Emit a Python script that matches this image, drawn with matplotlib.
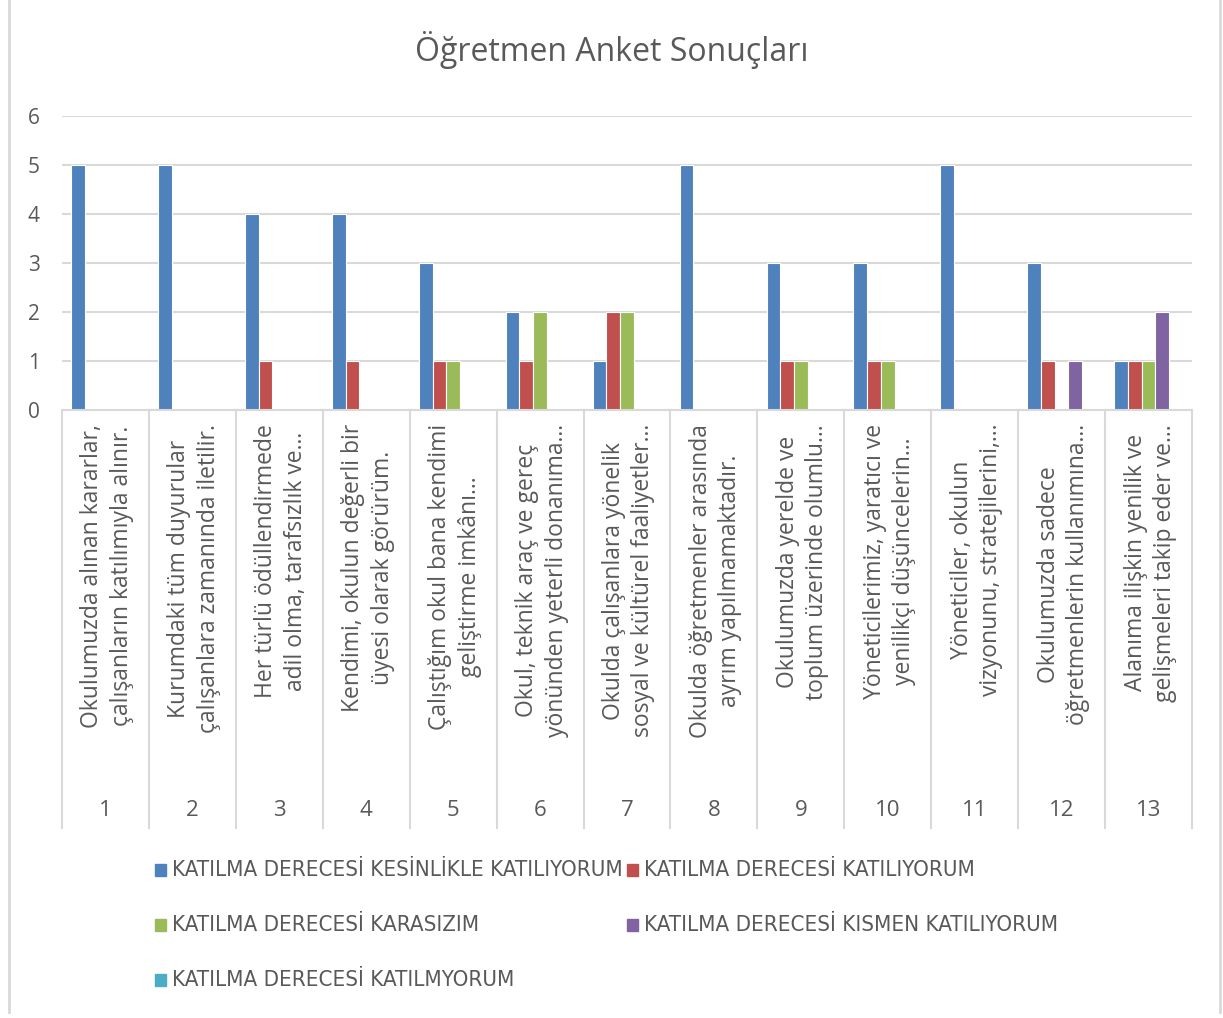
import numpy as np
import matplotlib.pyplot as plt
from matplotlib.patches import Rectangle
from matplotlib.lines import Line2D

# survey results, number of answers per statement
question_no = [str(i) for i in range(1, 14)]
statements = [
    "Okulumuzda alınan kararlar,\nçalışanların katılımıyla alınır.",
    "Kurumdaki tüm duyurular\nçalışanlara zamanında iletilir.",
    "Her türlü ödüllendirmede\nadil olma, tarafsızlık ve…",
    "Kendimi, okulun değerli bir\nüyesi olarak görürüm.",
    "Çalıştığım okul bana kendimi\ngeliştirme imkânı…",
    "Okul, teknik araç ve gereç\nyönünden yeterli donanıma…",
    "Okulda çalışanlara yönelik\nsosyal ve kültürel faaliyetler…",
    "Okulda öğretmenler arasında\nayrım yapılmamaktadır.",
    "Okulumuzda yerelde ve\ntoplum üzerinde olumlu…",
    "Yöneticilerimiz, yaratıcı ve\nyenilikçi düşüncelerin…",
    "Yöneticiler, okulun\nvizyonunu, stratejilerini,…",
    "Okulumuzda sadece\nöğretmenlerin kullanımına…",
    "Alanıma ilişkin yenilik ve\ngelişmeleri takip eder ve…",
]
series_names = [
    "KATILMA DERECESİ KESİNLİKLE KATILIYORUM",
    "KATILMA DERECESİ KATILIYORUM",
    "KATILMA DERECESİ KARASIZIM",
    "KATILMA DERECESİ KISMEN KATILIYORUM",
    "KATILMA DERECESİ KATILMYORUM",
]
kesinlikle = [5, 5, 4, 4, 3, 2, 1, 5, 3, 3, 5, 3, 1]
katiliyorum = [0, 0, 1, 1, 1, 1, 2, 0, 1, 1, 0, 1, 1]
kararsizim = [0, 0, 0, 0, 1, 2, 2, 0, 1, 1, 0, 0, 1]
kismen = [0, 0, 0, 0, 0, 0, 0, 0, 0, 0, 0, 1, 2]
katilmiyorum = [0, 0, 0, 0, 0, 0, 0, 0, 0, 0, 0, 0, 0]

series = [kesinlikle, katiliyorum, kararsizim, kismen, katilmiyorum]
colors = ['#4F81BD', '#C0504D', '#9BBB59', '#8064A2', '#4BACC6']
text_color = '#595959'
line_color = '#D9D9D9'

W, H = 1223, 1018
fig = plt.figure(figsize=(W / 100, H / 100), dpi=100)
plt.rcParams['font.family'] = ['Open Sans', 'DejaVu Sans']

# axes box in pixels: x 62..1192, y 116..410
ax = fig.add_axes([62 / W, 1 - 410 / H, (1192 - 62) / W, (410 - 116) / H])

x = np.arange(1, 14)
bar_w = 0.158
for i, vals in enumerate(series):
    ax.bar(x + (i - 2) * bar_w, vals, width=bar_w, color=colors[i],
           edgecolor='white', linewidth=0.8, label=series_names[i])

ax.set_xlim(0.5, 13.5)
ax.set_ylim(0, 6)
ax.set_yticks(range(7))
ax.yaxis.grid(True, color=line_color, linewidth=1.5)
ax.set_axisbelow(True)
for s in ['left', 'right', 'top']:
    ax.spines[s].set_visible(False)
ax.spines['bottom'].set_color(line_color)
ax.spines['bottom'].set_linewidth(1.5)
ax.tick_params(axis='y', length=0, pad=16, labelsize=15, labelcolor=text_color)
ax.tick_params(axis='x', length=0, labelbottom=False)

# category separators and labels under the axis
axh = 410 - 116
trans = ax.get_xaxis_transform()
for b in np.arange(0.5, 14.0, 1.0):
    ax.plot([b, b], [0, -(828 - 410) / axh], transform=trans, color=line_color,
            linewidth=1.5, clip_on=False)
for xi, txt, num in zip(x, statements, question_no):
    ax.text(xi + 0.02, -(424 - 410) / axh, txt, transform=trans, rotation=90,
            ha='center', va='top', multialignment='center', fontsize=16.5,
            linespacing=1.3, color=text_color)
    ax.text(xi, -(810 - 410) / axh, num, transform=trans, ha='center',
            va='center', fontsize=16, color=text_color)

fig.text(0.5, 1 - 50 / H, "Öğretmen Anket Sonuçları", ha='center', va='center',
         fontsize=23, color=text_color)

# legend, filled row by row in two columns
col_x = [155, 627]
row_y = [870, 925, 980]
for i, name in enumerate(series_names):
    r, c = divmod(i, 2)
    px, py = col_x[c], row_y[r]
    fig.add_artist(Rectangle((px / W, 1 - (py + 6) / H), 11 / W, 12 / H,
                             transform=fig.transFigure, color=colors[i]))
    fig.text((px + 17) / W, 1 - py / H, name, ha='left', va='center',
             fontsize=16, color=text_color, family='DejaVu Sans',
             fontstretch='condensed')

# outer frame lines of the chart area
for bx in [9, 1220]:
    fig.add_artist(Line2D([bx / W, bx / W], [1 - 1012 / H, 1], color=line_color,
                          linewidth=2, transform=fig.transFigure))

fig.savefig('out.png', dpi=100)
